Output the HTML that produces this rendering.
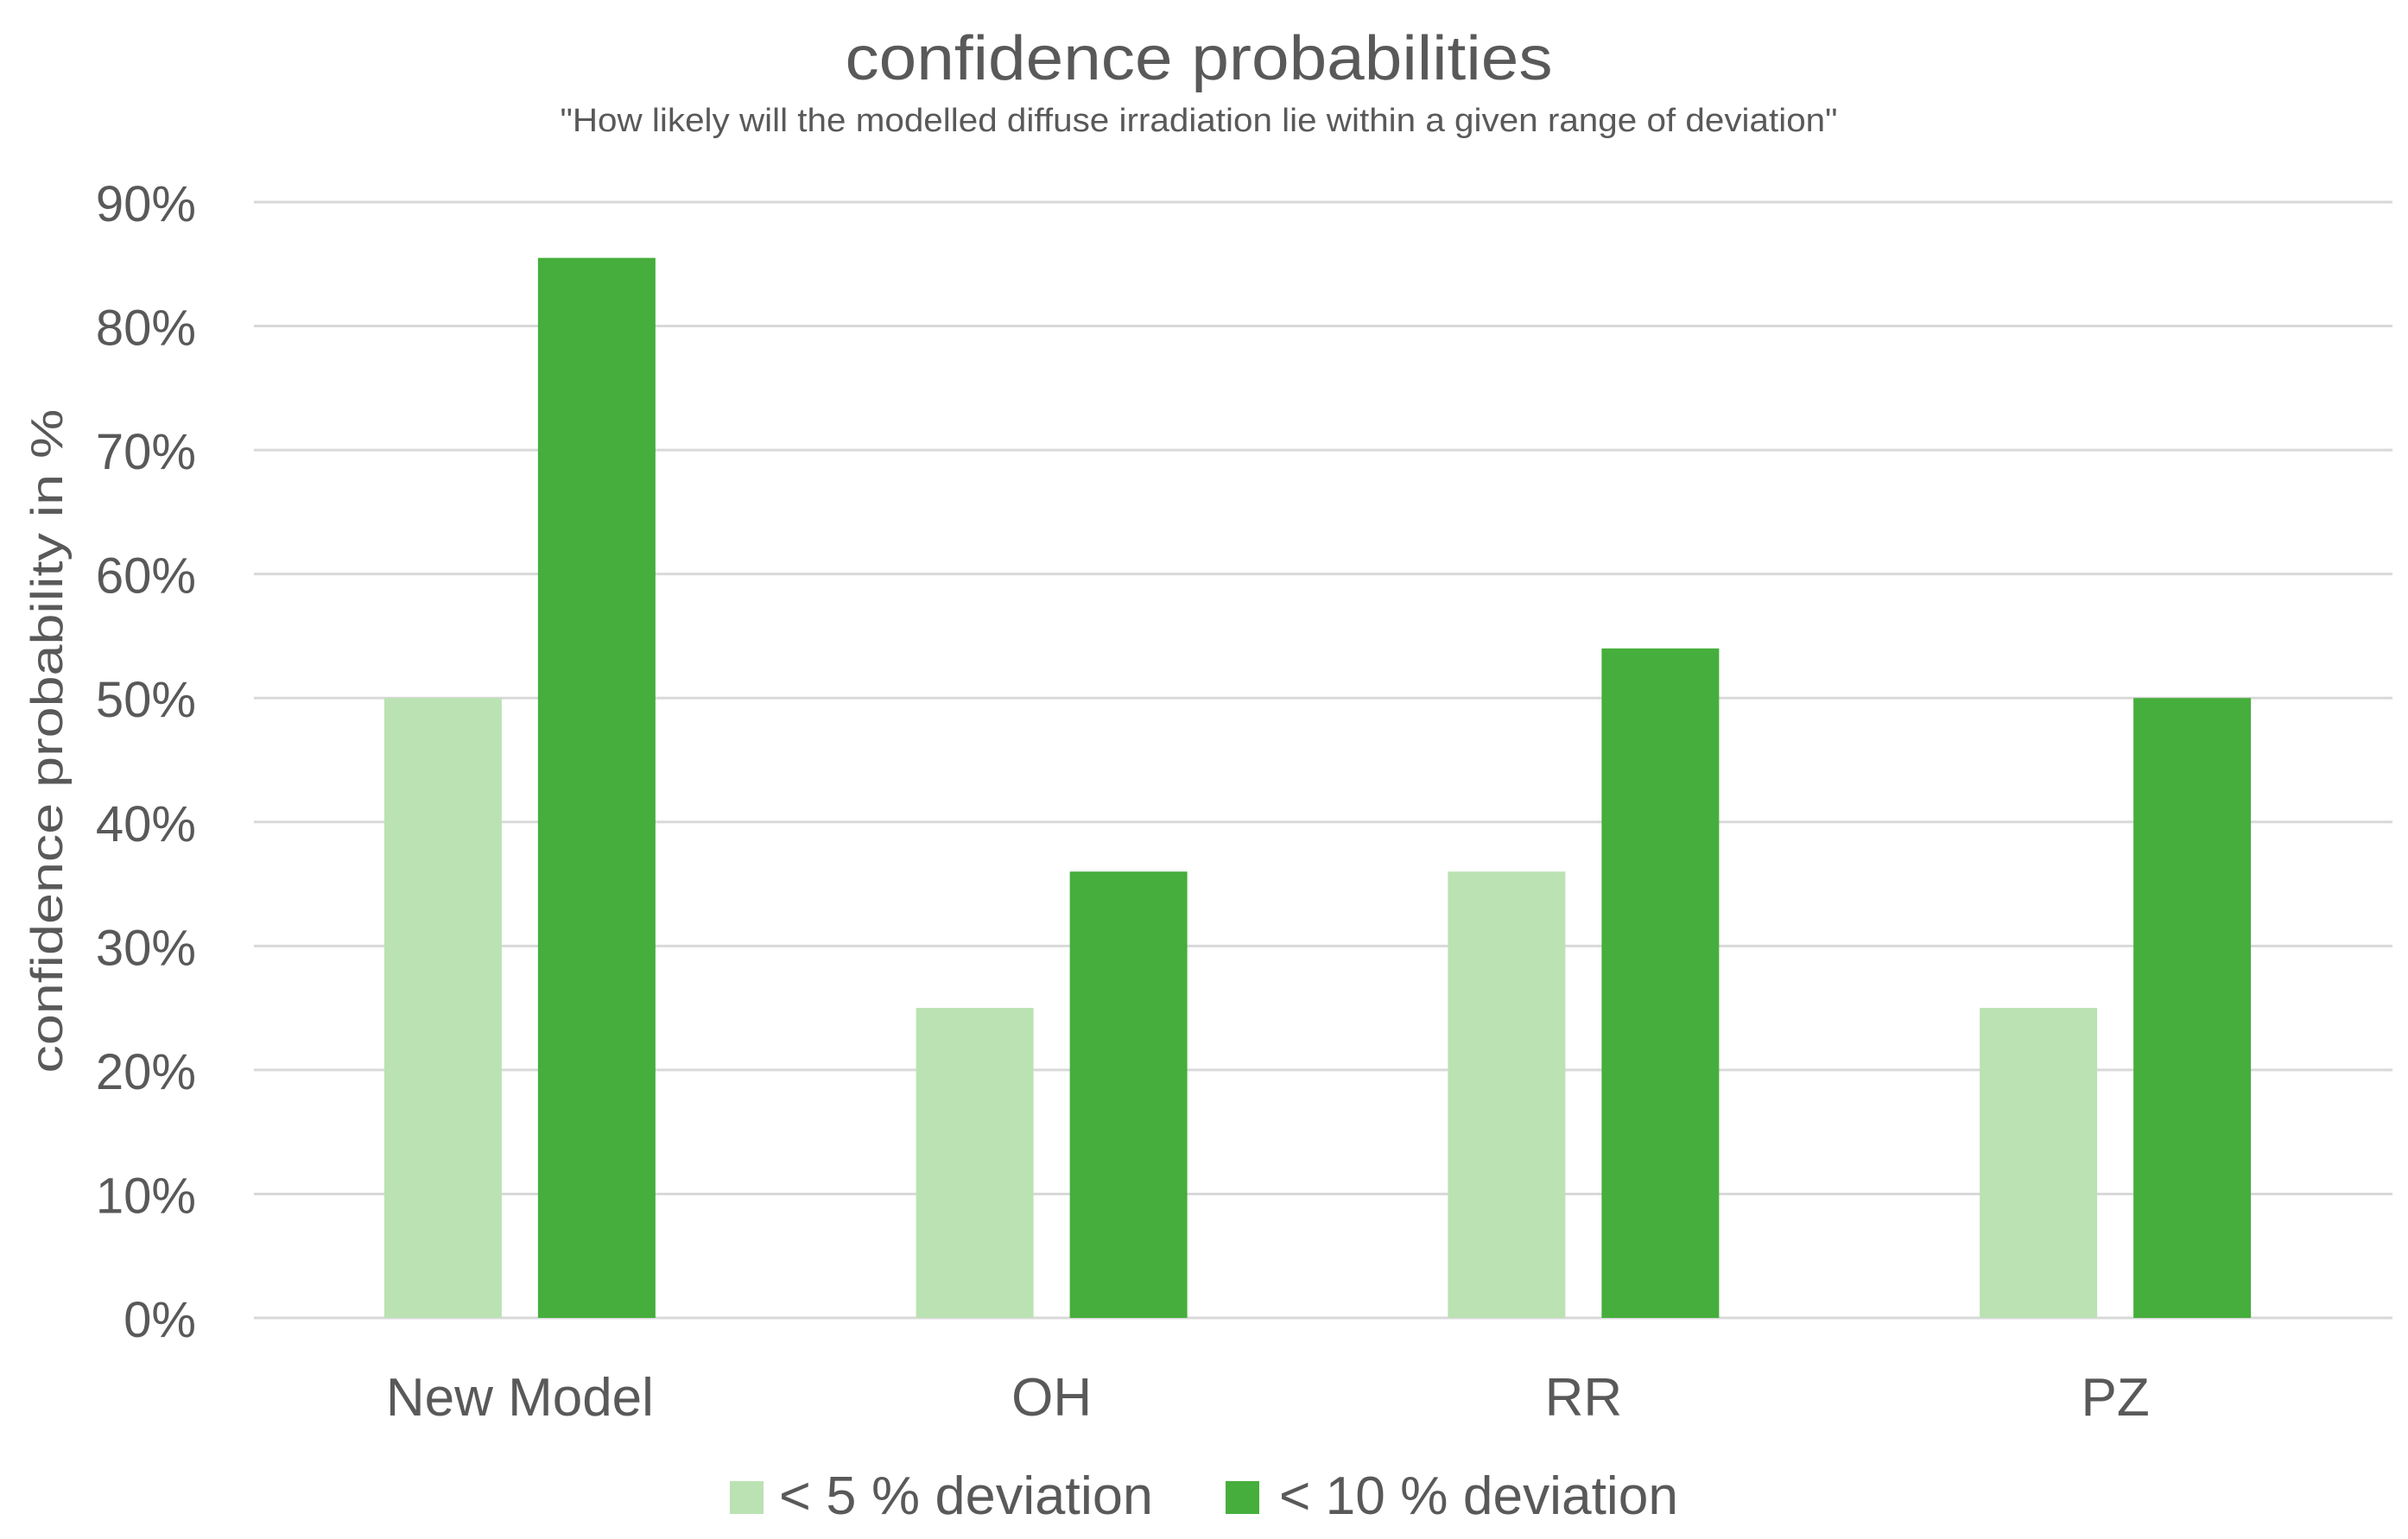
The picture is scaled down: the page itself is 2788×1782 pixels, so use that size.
<!DOCTYPE html>
<html><head><meta charset="utf-8"><style>
html,body{margin:0;padding:0;background:#fff;}
svg{display:block;font-family:"Liberation Sans",sans-serif;}
</style></head><body>
<svg id="chart" width="2788" height="1782" viewBox="0 0 2788 1782" xmlns="http://www.w3.org/2000/svg">
<rect width="2788" height="1782" fill="#fff"/>
<text x="1388" y="92" font-size="72" fill="#595959" text-anchor="middle" textLength="819" lengthAdjust="spacingAndGlyphs">confidence probabilities</text>
<text x="1388" y="152" font-size="38" fill="#595959" text-anchor="middle" textLength="1479" lengthAdjust="spacingAndGlyphs">"How likely will the modelled diffuse irradiation lie within a given range of deviation"</text>
<text transform="translate(72,858) rotate(-90)" font-size="52" fill="#595959" text-anchor="middle" textLength="769" lengthAdjust="spacingAndGlyphs">confidence probability in %</text>
<g id="grid"></g><g id="bars"></g><g id="xlabels"></g>
<rect x="845" y="1715" width="39" height="38" fill="#bbe2b3"/>
<text x="902" y="1753" font-size="62" fill="#595959" textLength="433" lengthAdjust="spacingAndGlyphs">&lt; 5 % deviation</text>
<rect x="1419" y="1715" width="39" height="38" fill="#46ae3c"/>
<text x="1481" y="1753" font-size="62" fill="#595959" textLength="462" lengthAdjust="spacingAndGlyphs">&lt; 10 % deviation</text>
</svg>
<script>
const categories = ["New Model", "OH", "RR", "PZ"];
const seriesLow = [50, 25, 36, 25];
const seriesHigh = [85.5, 36, 54, 50];
const yTicks = [0, 10, 20, 30, 40, 50, 60, 70, 80, 90];
const yTickLabels = ["0%", "10%", "20%", "30%", "40%", "50%", "60%", "70%", "80%", "90%"];

const NS = "http://www.w3.org/2000/svg";
const plotL = 294, plotR = 2757, y0 = 1526, y90 = 234;
function yScale(v){ return y0 - (v/90)*(y0 - y90); }
const band = (plotR - plotL)/categories.length;
function xCenter(i){ return plotL + band*(i+0.5); }
const barW = 136, off = 89;
function mk(tag, attrs, parent){ const e = document.createElementNS(NS, tag); for (const k in attrs) e.setAttribute(k, attrs[k]); parent.appendChild(e); return e; }
const grid = document.getElementById('grid');
yTicks.forEach((t, i) => {
  const y = yScale(t);
  const l = mk('line', {x1: plotL, x2: 2770, y1: y, y2: y, stroke: '#d9d9d9', 'stroke-width': 3}, grid);
  
  
  const tx = mk('text', {x: 227, y: y + 22, 'font-size': 58, fill: '#595959', 'text-anchor': 'end'}, grid);
  tx.textContent = yTickLabels[i];
  
  
});
const bars = document.getElementById('bars');
const xl = document.getElementById('xlabels');
categories.forEach((c, i) => {
  const cx = xCenter(i);
  const b1 = mk('rect', {x: cx - off - barW/2, y: yScale(seriesLow[i]), width: barW, height: y0 - yScale(seriesLow[i]), fill: '#bbe2b3'}, bars);
  
  
  const b2 = mk('rect', {x: cx + off - barW/2, y: yScale(seriesHigh[i]), width: barW, height: y0 - yScale(seriesHigh[i]), fill: '#46ae3c'}, bars);
  
  
  const t = mk('text', {x: cx, y: 1639, 'font-size': 62, fill: '#595959', 'text-anchor': 'middle'}, xl);
  t.textContent = c;
  
  
});
</script>
</body></html>
